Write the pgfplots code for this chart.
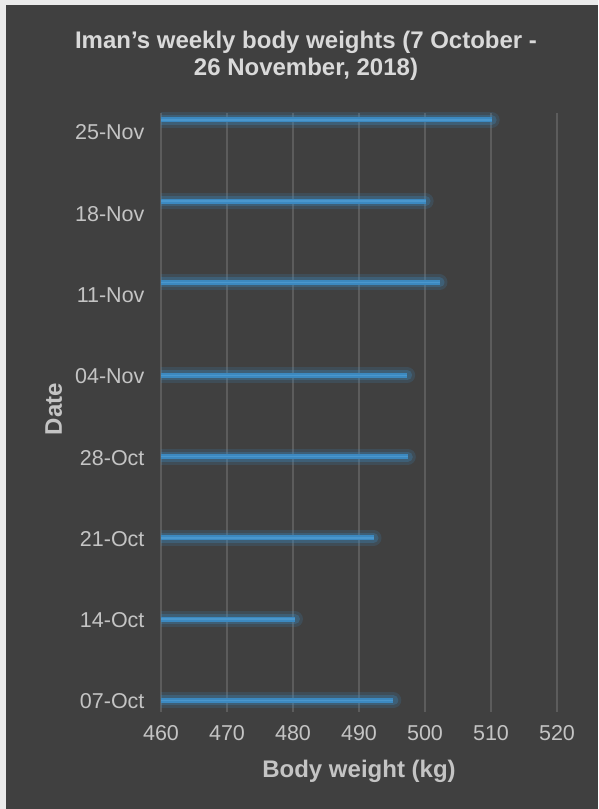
\documentclass[border=0pt]{standalone}
\usepackage{fontspec}
\setmainfont{Liberation Sans}
\usepackage{pgfplots}
\pgfplotsset{compat=1.18}
\usetikzlibrary{backgrounds}
\definecolor{bg}{HTML}{404040}
\definecolor{frame}{HTML}{EBEBEB}
\definecolor{txt}{HTML}{D9D9D9}
\definecolor{lab}{HTML}{C4C4C4}
\definecolor{gridc}{HTML}{5C5C5C}
\definecolor{barc}{HTML}{3C89C0}
\definecolor{barl}{HTML}{4A97CD}
\begin{document}
\begin{tikzpicture}[x=1pt,y=1pt]
\begin{axis}[
  at={(0,0)}, anchor=south west,
  scale only axis, width=396pt, height=599pt,
  xmin=460, xmax=520, ymin=-1, ymax=50.6,
  xtick={460,470,480,490,500,510,520},
  ytick={0,7,14,21,28,35,42,49},
  yticklabels={07-Oct,14-Oct,21-Oct,28-Oct,04-Nov,11-Nov,18-Nov,25-Nov},
  axis line style={draw=none}, tick style={draw=none},
  xmajorgrids, grid style={gridc, line width=1.2pt},
  /pgf/number format/assume math mode=true,
  ticklabel style={font=\fontsize{21.5}{26}\selectfont, text=lab},
  xticklabel style={yshift=-10pt},
  yticklabel style={xshift=-13pt, yshift=-1pt},
]
\coordinate (O) at (rel axis cs:0,0);
\addplot[xcomb, barc, opacity=0.18, line width=16pt, line cap=round, mark=none] coordinates {
(495.2,0) (480.3,7) (492.2,14) (497.4,21) (497.3,28) (502.2,36) (500.1,43) (510.1,50)};
\addplot[xcomb, barc, opacity=0.3, line width=10pt, line cap=round, mark=none] coordinates {
(495.2,0) (480.3,7) (492.2,14) (497.4,21) (497.3,28) (502.2,36) (500.1,43) (510.1,50)};
\addplot[xcomb, barc, line width=5pt, mark=none] coordinates {
(495.2,0) (480.3,7) (492.2,14) (497.4,21) (497.3,28) (502.2,36) (500.1,43) (510.1,50)};
\addplot[xcomb, barl, line width=1.5pt, mark=none] coordinates {
(495.2,0) (480.3,7) (492.2,14) (497.4,21) (497.3,28) (502.2,36) (500.1,43) (510.1,50)};
\end{axis}
\begin{scope}[shift={(O)}, xshift=-161pt, yshift=-97pt]
\begin{scope}[on background layer]
\fill[frame] (0,0) rectangle (598,809);
\fill[bg] (6,0) rectangle (598,804);
\end{scope}
\node[anchor=base, text=txt, font=\bfseries\fontsize{24}{28}\selectfont] at (306,760) {Iman's weekly body weights (7 October -};
\node[anchor=base, text=txt, font=\bfseries\fontsize{24}{28}\selectfont] at (306,733) {26 November, 2018)};
\node[anchor=base, text=lab, font=\bfseries\fontsize{24}{28}\selectfont] at (359,32) {Body weight (kg)};
\node[anchor=base, rotate=90, text=lab, font=\bfseries\fontsize{24}{28}\selectfont] at (62,400) {Date};
\end{scope}
\end{tikzpicture}
\end{document}
